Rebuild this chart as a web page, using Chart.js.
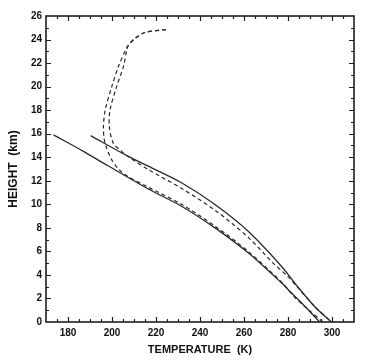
<!DOCTYPE html>
<html><head><meta charset="utf-8">
<script src="https://cdn.jsdelivr.net/npm/chart.js@4.4.1/dist/chart.umd.min.js"></script>
<style>html,body{margin:0;padding:0;background:#fff}</style>
</head><body>
<canvas id="c" width="373" height="363"></canvas>
<script>
// Tick labels
const xTickLabels = [180, 200, 220, 240, 260, 280, 300];
const yTickLabels = [0, 2, 4, 6, 8, 10, 12, 14, 16, 18, 20, 22, 24, 26];

// Lower solid profile: temperature (K) and height (km)
const lowerSolidT = [173.4, 187.0, 198.4, 216.5, 231.6, 246.8, 261.9, 277.0, 281.5, 286.1, 294.4];
const lowerSolidH = [15.9, 14.5, 13.25, 11.3, 9.84, 8.0, 5.88, 3.33, 2.48, 1.63, 0];

// Upper solid profile
const upperSolidT = [190.3, 207.4, 216.5, 231.6, 246.8, 261.9, 277.0, 284.6, 292.2, 299.7];
const upperSolidH = [15.83, 14.07, 13.24, 11.83, 9.98, 7.71, 4.74, 2.95, 1.3, 0];

// Dashed profile joining the lower solid
const lowerDashT = [224.5, 215.0, 210.5, 207.4, 205.9, 202.9, 199.9, 196.9, 196.1, 196.4, 197.3, 199.8, 203.0, 206.5, 216.5, 231.6, 246.8, 261.9, 277.0, 283.0, 289.0, 295.8];
const lowerDashH = [24.85, 24.6, 24.1, 23.5, 23.0, 21.7, 20.0, 18.0, 16.6, 15.6, 14.9, 13.8, 13.0, 12.45, 11.45, 10.0, 8.15, 6.0, 3.4, 2.1, 1.1, 0];

// Dashed profile joining the upper solid
const upperDashT = [224.5, 215.0, 210.5, 207.4, 206.6, 205.2, 202.1, 199.1, 198.8, 200.6, 204.4, 207.4, 216.5, 231.6, 246.8, 261.9, 273.0, 280.0, 284.6, 292.2, 299.7];
const upperDashH = [24.85, 24.6, 24.1, 23.5, 23.0, 21.7, 20.0, 18.0, 16.6, 15.2, 14.5, 14.05, 12.95, 11.35, 9.5, 7.2, 5.05, 3.85, 2.9, 1.3, 0];

const toPts = (T, H) => T.map((t, i) => ({ x: t, y: H[i] }));
const FONT = "'Liberation Sans', Arial, sans-serif";
const INK = '#1e1e1e';

const framePlugin = {
  id: 'frame',
  afterDatasetsDraw(chart) {
    const { ctx, chartArea: a, scales: { x, y } } = chart;
    ctx.save();
    ctx.strokeStyle = INK;
    ctx.lineWidth = 1.2;
    ctx.beginPath();
    for (let v = 175; v < 310; v += 5) {
      const px = Math.round(x.getPixelForValue(v)) + 0.5;
      const len = xTickLabels.includes(v) ? 5 : 3;
      ctx.moveTo(px, a.bottom); ctx.lineTo(px, a.bottom - len);
      ctx.moveTo(px, a.top); ctx.lineTo(px, a.top + len);
    }
    for (let v = 1; v < 26; v += 1) {
      const py = Math.round(y.getPixelForValue(v)) + 0.5;
      const len = yTickLabels.includes(v) ? 5 : 3;
      ctx.moveTo(a.left, py); ctx.lineTo(a.left + len, py);
      ctx.moveTo(a.right, py); ctx.lineTo(a.right - len, py);
    }
    ctx.stroke();
    ctx.lineWidth = 1.6;
    ctx.strokeRect(a.left, a.top, a.right - a.left, a.bottom - a.top);
    ctx.restore();
  }
};

const solid = { borderColor: '#2a2a2a', borderWidth: 1.3, pointRadius: 0, showLine: true, tension: 0.3, fill: false };
const dashed = { borderColor: '#2a2a2a', borderWidth: 1.2, borderDash: [4, 3], pointRadius: 0, showLine: true, tension: 0.3, fill: false };

new Chart(document.getElementById('c'), {
  type: 'scatter',
  data: {
    datasets: [
      Object.assign({ label: 'lower solid', data: toPts(lowerSolidT, lowerSolidH) }, solid),
      Object.assign({ label: 'upper solid', data: toPts(upperSolidT, upperSolidH) }, solid),
      Object.assign({ label: 'lower dashed', data: toPts(lowerDashT, lowerDashH) }, dashed),
      Object.assign({ label: 'upper dashed', data: toPts(upperDashT, upperDashH) }, dashed)
    ]
  },
  options: {
    responsive: false,
    animation: false,
    devicePixelRatio: 1,
    layout: { padding: { top: 16, right: 19, left: 0, bottom: 0 } },
    plugins: { legend: { display: false }, tooltip: { enabled: false } },
    scales: {
      x: {
        type: 'linear', min: 170, max: 310,
        afterBuildTicks: s => { s.ticks = xTickLabels.map(v => ({ value: v })); },
        afterFit: s => { s.height = 41; },
        grid: { display: false, drawTicks: false },
        border: { display: false },
        ticks: { padding: 5, color: '#111', maxRotation: 0, autoSkip: false, font: { family: FONT, size: 10, weight: 'bold' } },
        title: { display: true, text: 'TEMPERATURE  (K)', color: '#111', padding: { top: 0, bottom: 6 }, font: { family: FONT, size: 11, weight: 'bold' } }
      },
      y: {
        type: 'linear', min: 0, max: 26,
        afterBuildTicks: s => { s.ticks = yTickLabels.map(v => ({ value: v })); },
        afterFit: s => { s.width = 46; },
        grid: { display: false, drawTicks: false },
        border: { display: false },
        ticks: { padding: 4, color: '#111', autoSkip: false, font: { family: FONT, size: 10, weight: 'bold' } },
        title: { display: true, text: 'HEIGHT  (km)', color: '#111', padding: { top: 6, bottom: 0 }, font: { family: FONT, size: 12, weight: 'bold' } }
      }
    }
  },
  plugins: [framePlugin]
});
</script>
</body></html>
